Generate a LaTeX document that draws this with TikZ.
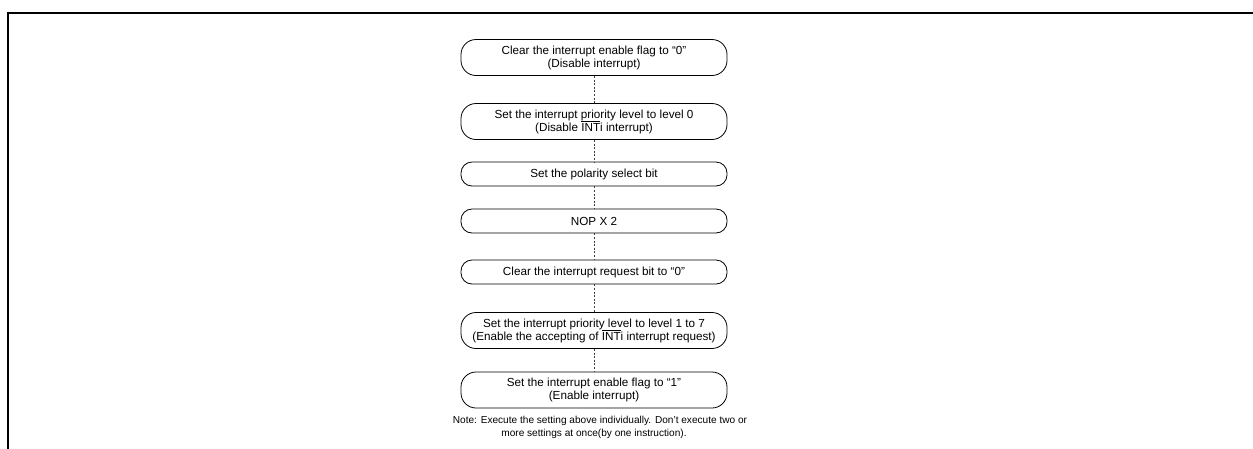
\documentclass[tikz,border=0pt]{standalone}
\usepackage{fontspec}
\setmainfont{Liberation Sans}
\newcommand{\intbar}{$\overline{\mbox{INT}}$i}
\begin{document}
\begin{tikzpicture}[x=1pt,y=-1pt,
  stepbox/.style={draw, line width=0.8pt, minimum width=266pt, inner sep=0pt,
    align=center, font=\fontsize{11.7}{13}\selectfont},
  link/.style={draw=black!75, line width=0.8pt, dash pattern=on 2pt off 1.6pt},
  notetext/.style={inner sep=0pt, font=\fontsize{10.1}{12}\selectfont}]
\useasboundingbox (0,0) rectangle (1253,448);
\begin{scope}
\clip (0,0) rectangle (1253,448);
\draw[line width=2pt] (8,460) -- (8,12.5) -- (1270,12.5);
\end{scope}
\node[stepbox, minimum height=36pt, rounded corners=15pt] (b1) at (594,57.5)
  {Clear the interrupt enable flag to “0”\\(Disable interrupt)};
\node[stepbox, minimum height=36pt, rounded corners=15pt] (b2) at (594,121.5)
  {Set the interrupt priority level to level 0\\(Disable \intbar{} interrupt)};
\node[stepbox, minimum height=24pt, rounded corners=11pt] (b3) at (594,174)
  {Set the polarity select bit};
\node[stepbox, minimum height=24pt, rounded corners=11pt] (b4) at (594,221)
  {NOP X 2};
\node[stepbox, minimum height=24pt, rounded corners=11pt] (b5) at (594,272)
  {Clear the interrupt request bit to “0”};
\node[stepbox, minimum height=36pt, rounded corners=15pt] (b6) at (594,330.5)
  {Set the interrupt priority level to level 1 to 7\\(Enable the accepting of \intbar{} interrupt request)};
\node[stepbox, minimum height=36pt, rounded corners=15pt] (b7) at (594,390)
  {Set the interrupt enable flag to “1”\\(Enable interrupt)};
\draw[link] (b1) -- (b2);
\draw[link] (b2) -- (b3);
\draw[link] (b3) -- (b4);
\draw[link] (b4) -- (b5);
\draw[link] (b5) -- (b6);
\draw[link] (b6) -- (b7);
\node[notetext] (n1) at (600,421) {Note: Execute the setting above individually. Don’t execute two or};
\node[notetext] (n2) at (594,434) {more settings at once(by one instruction).};
\end{tikzpicture}
\end{document}
